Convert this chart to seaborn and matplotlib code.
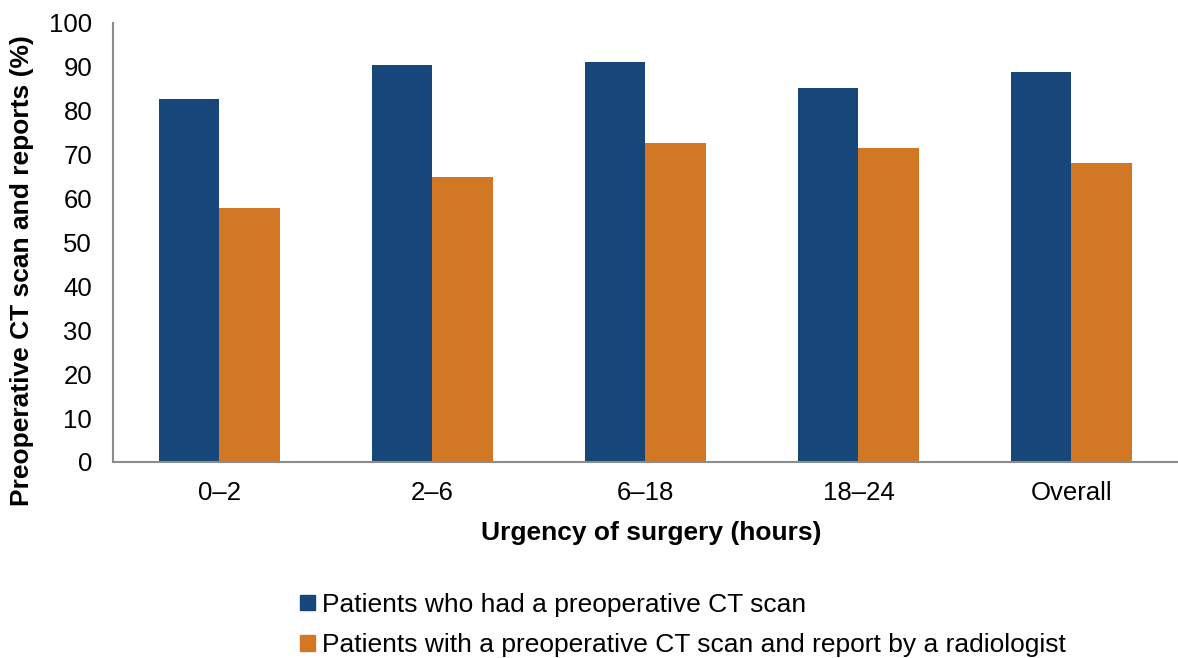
import numpy as np
import pandas as pd
import matplotlib
matplotlib.use('Agg')
import matplotlib.pyplot as plt
import seaborn as sns

# Data
categories = ['0–2', '2–6', '6–18', '18–24', 'Overall']
ct_scan = [82.7, 90.3, 91.1, 85.2, 88.8]
ct_and_report = [57.9, 64.9, 72.6, 71.4, 68.0]
series_names = ['Patients who had a preoperative CT scan',
                'Patients with a preoperative CT scan and report by a radiologist']
colors = ['#17467A', '#D27824']

df = pd.DataFrame({
    'Urgency': categories * 2,
    'Percent': ct_scan + ct_and_report,
    'Series': [series_names[0]] * len(categories) + [series_names[1]] * len(categories),
})

sns.set_style('white')
plt.rcParams['font.family'] = ['Liberation Sans', 'DejaVu Sans']
plt.rcParams['text.color'] = 'black'
plt.rcParams['axes.labelcolor'] = 'black'
plt.rcParams['xtick.color'] = 'black'
plt.rcParams['ytick.color'] = 'black'

fig = plt.figure(figsize=(11.78, 6.58), dpi=100)
ax = fig.add_axes([0.0959, 0.2979, 0.9041, 0.6679])

sns.barplot(data=df, x='Urgency', y='Percent', hue='Series', order=categories,
            hue_order=series_names, palette=colors, width=0.572, saturation=1,
            linewidth=0, ax=ax, legend=False)

ax.set_ylim(0, 100)
ax.set_yticks(np.arange(0, 101, 10))
ax.set_xlim(-0.5, 4.456)

# category boundaries get the tick marks, labels sit in between
ax.set_xticks(np.arange(len(categories)))
ax.set_xticklabels(categories)
ax.set_xticks(np.arange(-0.5, len(categories), 1), minor=True)
ax.tick_params(axis='x', which='major', length=0, pad=14, labelsize=18.5)
ax.tick_params(axis='x', which='minor', length=7, width=1.2, color='#8c8c8c', direction='out')
ax.tick_params(axis='y', length=7, width=1.2, color='#8c8c8c', direction='out', pad=8,
               labelsize=18.5)

for side in ['top', 'right']:
    ax.spines[side].set_visible(False)
for side in ['left', 'bottom']:
    ax.spines[side].set_color('#8c8c8c')
    ax.spines[side].set_linewidth(1.5)

ax.set_xlabel('Urgency of surgery (hours)', fontsize=19, fontweight='bold', va='center')
ax.xaxis.set_label_coords(0.505, -0.161)
ax.set_ylabel('Preoperative CT scan and reports (%)', fontsize=19, fontweight='bold',
              va='center')
ax.yaxis.set_label_coords(-0.0855, 0.436)

handles = [plt.Rectangle((0, 0), 1, 1, color=c) for c in colors]
fig.legend(handles, series_names, loc='upper left', bbox_to_anchor=(0.2547, 0.099),
           bbox_transform=fig.transFigure, frameon=False, fontsize=19,
           handlelength=0.55, handleheight=0.55, handletextpad=0.3, labelspacing=0.62,
           borderaxespad=0, borderpad=0)

fig.savefig('out.png', dpi=100)
